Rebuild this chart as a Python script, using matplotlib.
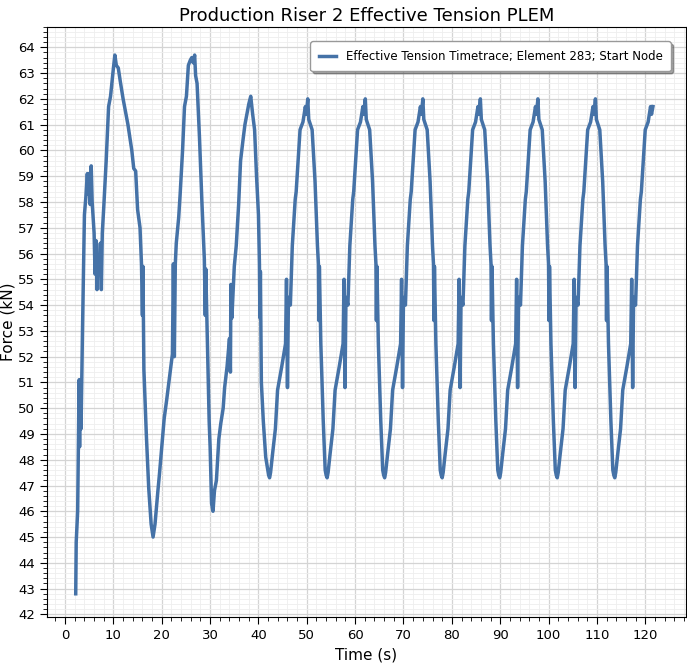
import matplotlib
matplotlib.use("Agg")
import matplotlib.pyplot as plt
from matplotlib.ticker import MultipleLocator

# Start-up transient (first two swells)
start_t = [2.2,2.3,2.6,2.9,3.0,3.1,3.3,3.6,4.0,4.3,4.6,4.8,5.0,5.2,5.4,5.6,5.8,6.0,6.2,6.4,6.6,6.8,7.0,7.3,7.5,7.7,
           8.0,8.5,9.0,9.4,10.0,10.3,10.6,11.0,11.4,12.0,13.0,13.8,14.2,14.6,15.0,15.5,15.8,16.0,16.1,16.3,16.8,17.3,
           17.8,18.2,18.6,19.2,19.5,20.0,20.5,21.0,21.6,22.2,22.4,22.6,22.8,23.0,23.5,23.8,24.3,24.7,25.1,25.5,25.9,
           26.2,26.5,26.8,27.0,27.3,27.8,28.3,28.8,29.0,29.1,29.5,29.8,30.0,30.3,30.6,30.9,31.3,31.8,32.2,32.7,33.0,
           33.5,34.0,34.2,34.3,34.5,35.0,35.4,35.9,36.3,36.8,37.2,37.6,38.0,38.4,38.8,39.2,39.6,40.0,40.2,40.3,40.4,
           40.6,41.0,41.5]
start_f = [42.8,44.8,46.0,51.1,48.5,51.1,49.2,53.0,57.5,58.2,59.1,58.3,59.1,57.9,59.4,58.0,57.4,56.8,55.2,56.5,54.6,55.8,55.2,56.4,54.6,56.8,
           57.8,59.6,61.7,62.1,63.2,63.7,63.3,63.2,62.7,62.0,61.0,60.0,59.3,59.2,57.7,57.0,55.6,53.6,55.5,51.5,49.0,46.9,
           45.5,45.0,45.5,46.8,47.4,48.5,49.6,50.3,51.2,52.1,55.6,52.0,55.6,56.4,57.4,58.3,60.0,61.7,62.1,63.3,63.5,
           63.6,63.4,63.7,62.9,62.6,60.5,58.0,55.8,53.6,55.4,52.0,49.5,48.5,46.3,46.0,46.8,47.2,48.8,49.4,50.0,50.8,
           51.6,52.7,51.4,54.8,53.5,55.5,56.3,57.9,59.6,60.4,61.0,61.4,61.8,62.1,61.4,60.8,59.0,57.5,55.6,53.5,55.3,
           51.0,49.5,48.1]

# Steady periodic response: trough times and one swell shape (offset from trough, force)
trough_t = [42.1, 54.0, 65.9, 77.8, 89.7, 101.6, 113.5]
end_t = 121.6
end_f = 61.7
cycle_dt = [0.0,0.2,0.4,0.8,1.4,1.85,2.7,3.5,3.7,3.9,4.1,4.5,4.9,5.5,5.7,6.5,7.1,7.6,7.8,8.1,8.3,9.0,9.6,10.1,10.3,10.4,10.5,10.8,11.3,11.7]
cycle_f = [47.4,47.3,47.5,48.2,49.2,50.7,51.6,52.5,55.0,50.8,54.3,54.0,56.3,58.1,58.4,60.8,61.1,61.7,61.4,62.0,61.2,60.8,58.8,56.3,55.6,53.4,55.5,52.5,49.5,47.6]

t = list(start_t)
f = list(start_f)
for T in trough_t:
    for dt, v in zip(cycle_dt, cycle_f):
        if T + dt < end_t:
            t.append(T + dt); f.append(v)
t.append(end_t); f.append(end_f)

fig = plt.figure(figsize=(6.87, 6.67), dpi=100)
ax = fig.add_axes([0.068, 0.075, 0.931, 0.885])
ax.plot(t, f, color="#4572a7", lw=2.5, label="Effective Tension Timetrace; Element 283; Start Node")
ax.set_xlim(-3.8, 128.5)
ax.set_ylim(41.9, 64.8)
ax.xaxis.set_major_locator(MultipleLocator(10))
ax.xaxis.set_minor_locator(MultipleLocator(2))
ax.yaxis.set_major_locator(MultipleLocator(1))
ax.yaxis.set_minor_locator(MultipleLocator(0.2))
ax.grid(which="major", color="#d4d4d4", lw=0.9)
ax.grid(which="minor", color="#eeeeee", lw=0.6)
ax.set_axisbelow(True)
ax.tick_params(which="major", length=5, labelsize=9.5)
ax.tick_params(which="minor", length=3)
ax.set_xlabel("Time (s)", fontsize=11)
ax.set_ylabel("Force (kN)", fontsize=11, labelpad=2)
ax.set_title("Production Riser 2 Effective Tension PLEM", fontsize=13, pad=4)
leg = ax.legend(loc="upper right", bbox_to_anchor=(0.985, 0.985), fontsize=8.5, fancybox=True, shadow=True,
                framealpha=1, edgecolor="#999999", borderpad=0.7, handlelength=1.5)
fig.savefig("out.png", dpi=100)
